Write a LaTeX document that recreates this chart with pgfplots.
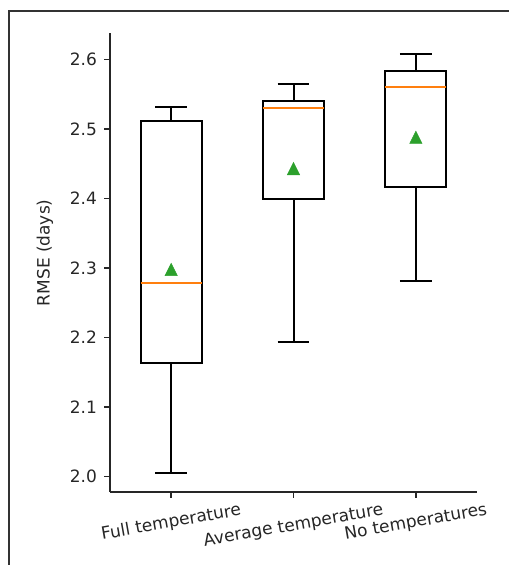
\documentclass[border=0pt]{standalone}
\usepackage{fontspec}
\setmainfont{DejaVu Sans}
\usepackage{pgfplots}
\pgfplotsset{compat=1.18}
\usepgfplotslibrary{statistics}

\definecolor{mplorange}{HTML}{FF7F0E}
\definecolor{mplgreen}{HTML}{2CA02C}
\definecolor{spine}{HTML}{262626}

% matplotlib-style "^" marker: isosceles triangle as wide as it is tall
\pgfdeclareplotmark{meantri}{%
  \pgfpathmoveto{\pgfpoint{0pt}{\pgfplotmarksize}}%
  \pgfpathlineto{\pgfpoint{-\pgfplotmarksize}{-\pgfplotmarksize}}%
  \pgfpathlineto{\pgfpoint{\pgfplotmarksize}{-\pgfplotmarksize}}%
  \pgfpathclose
  \pgfusepathqfillstroke}

\newcommand{\lbl}{\fontsize{8.5}{10}\selectfont}

\begin{document}
\begin{tikzpicture}
\useasboundingbox (0,0) rectangle (254pt,282.5pt);
% outer frame
\draw[line width=1pt, black!80] (4.5pt,-2pt) -- (4.5pt,277pt) -- (256pt,277pt);
\begin{axis}[
  at={(55pt,36.5pt)}, anchor=south west,
  scale only axis, width=183.5pt, height=229.5pt,
  xmin=0.5, xmax=3.5, ymin=1.978, ymax=2.638,
  axis x line*=bottom, axis y line*=left,
  axis line style={line width=0.8pt, spine, -},
  tick align=outside, major tick length=3pt,
  tick style={line width=0.8pt, spine},
  xtick={1,2,3},
  xticklabels={\rotatebox{10}{Full temperature},
               \rotatebox{10}{Average temperature},
               \rotatebox{10}{No temperatures}},
  xticklabel style={font=\lbl, text=spine, anchor=north, inner sep=0pt, yshift=-2pt},
  ytick={2.0,2.1,2.2,2.3,2.4,2.5,2.6},
  yticklabel style={font=\lbl, text=spine, anchor=east,
    /pgf/number format/.cd, fixed, fixed zerofill, precision=1, assume math mode=true},
  ylabel={RMSE (days)},
  ylabel style={font=\lbl, text=spine, at={(axis description cs:-0.177,0.521)}, anchor=center},
  boxplot/draw direction=y,
  boxplot/every median/.style={draw=mplorange, line width=1pt},
  boxplot/box extend=0.5,
  boxplot/whisker extend=0.26,
  clip=false,
]
% five-number summaries of each configuration
\addplot[draw=black, line width=1pt, solid, mark=none,
  boxplot prepared={lower whisker=2.006, lower quartile=2.163, median=2.279,
    upper quartile=2.512, upper whisker=2.532, draw position=1}] coordinates {};
\addplot[draw=black, line width=1pt, solid, mark=none,
  boxplot prepared={lower whisker=2.194, lower quartile=2.399, median=2.530,
    upper quartile=2.540, upper whisker=2.564, draw position=2}] coordinates {};
\addplot[draw=black, line width=1pt, solid, mark=none,
  boxplot prepared={lower whisker=2.281, lower quartile=2.417, median=2.561,
    upper quartile=2.583, upper whisker=2.608, draw position=3}] coordinates {};
% means
\addplot[only marks, mark=meantri, mark size=3.1pt, color=mplgreen, line width=0.2pt]
  coordinates {(1,2.298) (2,2.443) (3,2.488)};
\end{axis}
\end{tikzpicture}
\end{document}
